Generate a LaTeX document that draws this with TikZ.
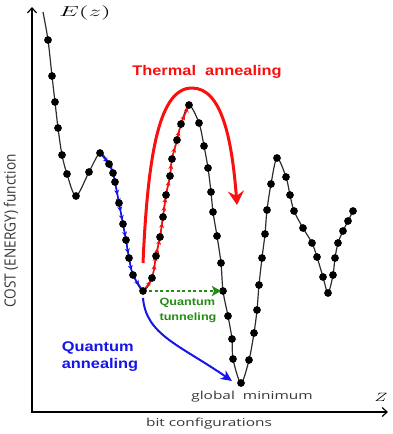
\documentclass[tikz,border=0pt]{standalone}
\usepackage{fontspec}
\setmainfont{Liberation Sans}
\newfontfamily\grayfont{Open Sans}
\usetikzlibrary{arrows.meta,decorations.markings}
\definecolor{qblue}{RGB}{20,20,235}
\definecolor{tred}{RGB}{250,15,15}
\definecolor{tgreen}{RGB}{35,140,20}
\definecolor{curvegray}{RGB}{45,45,45}
\definecolor{txtgray}{RGB}{55,55,55}
\begin{document}
\begin{tikzpicture}[x=1pt,y=-1pt,
  axis/.style={black,line width=1.2pt,{Straight Barb[length=5pt,width=9pt]}-{Straight Barb[length=5pt,width=9pt]}},
  curve/.style={curvegray,line width=1.2pt},
  dots/.style={mark=*,mark size=3.6pt,mark options={fill=black,draw=black}},
  graytxt/.style={font=\grayfont\fontsize{11}{13}\selectfont,text=txtgray,xscale=1.4,inner sep=0pt},
  boldtxt/.style={font=\bfseries\fontsize{14}{17}\selectfont,xscale=1.17,inner sep=0pt,align=left},
  steps/.style={postaction={decorate},decoration={markings,
    mark=between positions 4pt and -2pt step 8.5pt with {\arrow{Stealth[length=5pt,width=5pt]}}}}]
\useasboundingbox (0,0) rectangle (392,434);
% axes
\coordinate (ytop) at (32,7);
\coordinate (xend) at (388,412);
\draw[axis] (ytop) |- (xend);
\node (Ez) at (85,13) {\fontsize{15}{17}\selectfont\scalebox{1.75}[1]{$E(z)$}};
\node (Zlbl) at (381,397) {\fontsize{13}{15}\selectfont\scalebox{1.45}[1]{$Z$}};
\node[graytxt,rotate=90,xscale=1.24] (cost) at (11,231) {COST (ENERGY) function};
\node[graytxt] (bits) at (209,424) {bit configurations};
\node[graytxt] (gmin) at (252,397) {global\ \ minimum};
% energy landscape
\draw[curve] plot[smooth,tension=0.5] coordinates {(43,12)(48,40)(52,76)(55,102)(58,128)(62,155)(67,174)(76,196)(89,172)(100,153)
  (109,164)(113,173)(115,182)(119,203)(123,224)(126,240)(129,258)(133,275)(143,291)
  (152,278)(156,256)(160,237)(163,217)(166,195)(170,176)(172,159)(177,140)(181,124)(189,105)
  (199,123)(204,146)(208,168)(211,192)(213,212)(217,236)(221,263)(223,291)(228,316)(232,339)(233,359)(241,383)
  (249,360)(254,333)(257,310)(259,285)(262,258)(265,234)(267,210)(271,184)(277,158)
  (286,177)(290,195)(294,211)(303,228)(312,243)(317,257)(323,277)(328,293)
  (333,275)(335,258)(338,243)(343,231)(348,221)(353,211)};
\draw[qblue,line width=1.6pt,steps] plot[smooth,tension=0.5] coordinates {(100,153)(109,164)(113,173)(115,182)(119,203)(123,224)(126,240)(129,258)(133,275)(143,291)};
\draw[tred,line width=1.6pt,steps] plot[smooth,tension=0.5] coordinates {(143,291)(152,278)(156,256)(160,237)(163,217)(166,195)(170,176)(172,159)(177,140)(181,124)(189,105)};
\path[dots] plot coordinates {(48,40)(52,76)(55,102)(58,128)(62,155)(67,174)(76,196)(89,172)(100,153)
  (109,164)(113,173)(115,182)(119,203)(123,224)(126,240)(129,258)(133,275)(143,291)
  (152,278)(156,256)(160,237)(163,217)(166,195)(170,176)(172,159)(177,140)(181,124)(189,105)
  (199,123)(204,146)(208,168)(211,192)(213,212)(217,236)(221,263)(223,291)(228,316)(232,339)(233,359)(241,383)
  (249,360)(254,333)(257,310)(259,285)(262,258)(265,234)(267,210)(271,184)(277,158)
  (286,177)(290,195)(294,211)(303,228)(312,243)(317,257)(323,277)(328,293)
  (333,275)(335,258)(338,243)(343,231)(348,221)(353,211)};
% thermal annealing
\coordinate (th1) at (143,263);
\coordinate (th2) at (237,205);
\draw[tred,line width=3pt,-{Stealth[length=14pt,width=16pt,inset=5pt]}] (th1) .. controls (148,150) and (160,88) .. (192,88) .. controls (222,88) and (232,140) .. (th2);
\node[boldtxt,text=tred] (thlbl) at (207,72) {Thermal\ \ annealing};
% quantum annealing
\coordinate (qa1) at (143,298);
\coordinate (qa2) at (232,381);
\draw[qblue,line width=2pt,-{Stealth[length=11pt,width=10pt,inset=3pt]}] (qa1) .. controls (146,335) and (180,345) .. (qa2);
\node[boldtxt,text=qblue] (qalbl) at (100,357) {Quantum\\annealing};
% tunneling
\coordinate (qt1) at (149,291);
\coordinate (qt2) at (221,291);
\draw[tgreen,line width=2pt,dash pattern=on 3pt off 2.5pt,-{Stealth[length=9pt,width=10pt,inset=2pt]}] (qt1) -- (qt2);
\node[boldtxt,font=\bfseries\fontsize{10.5}{15}\selectfont,xscale=1.03,text=tgreen] (qtlbl) at (188,310) {Quantum\\tunneling};
\end{tikzpicture}
\end{document}
